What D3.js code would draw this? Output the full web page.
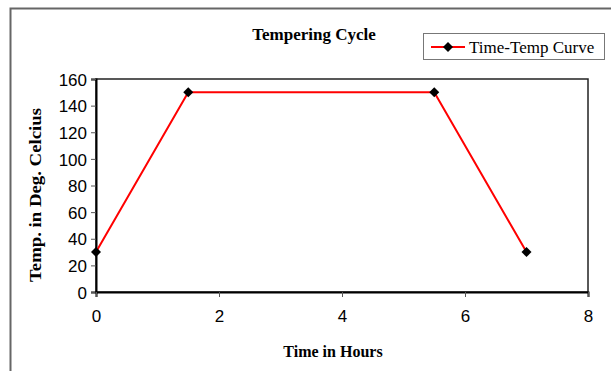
<!DOCTYPE html>
<html>
<head>
<meta charset="utf-8">
<script src="https://cdn.jsdelivr.net/npm/d3@7"></script>
<style>
  body { margin: 0; background: #fff; }
  svg { display: block; }
</style>
</head>
<body>
<div id="chart"></div>
<script>
// chart data
const hours = [0, 1.5, 5.5, 7];
const temps = [30, 150, 150, 30];
const xTicks = [0, 2, 4, 6, 8];
const yTicks = [0, 20, 40, 60, 80, 100, 120, 140, 160];

const width = 611;
const height = 371;
const margin = { top: 79, right: 23, bottom: 79, left: 96 };

const svg = d3.select("#chart")
  .append("svg")
  .attr("width", width)
  .attr("height", height);

// outer frame
svg.append("rect")
  .attr("x", 10.5)
  .attr("y", 8.5)
  .attr("width", 700)
  .attr("height", 500)
  .attr("fill", "none")
  .attr("stroke", "#666")
  .attr("stroke-width", 2);

const x = d3.scaleLinear()
  .domain([0, 8])
  .range([margin.left, width - margin.right]);

const y = d3.scaleLinear()
  .domain([0, 160])
  .range([height - margin.bottom, margin.top]);

// plot area border
svg.append("rect")
  .attr("x", x(0))
  .attr("y", y(160))
  .attr("width", x(8) - x(0))
  .attr("height", y(0) - y(160))
  .attr("fill", "none")
  .attr("stroke", "#222")
  .attr("stroke-width", 1.5);

const yAxis = svg.append("g")
  .attr("transform", `translate(${x(0)},0)`)
  .call(d3.axisLeft(y).tickValues(yTicks).tickSize(5).tickPadding(4));

const xAxis = svg.append("g")
  .attr("transform", `translate(0,${y(0)})`)
  .call(d3.axisBottom(x).tickValues(xTicks).tickSize(5).tickPadding(13));

[xAxis, yAxis].forEach(g => {
  g.select(".domain").attr("stroke", "#000").attr("stroke-width", 2);
  g.selectAll(".tick line").attr("stroke", "#555");
  g.selectAll("text")
    .attr("font-family", "Liberation Sans, Arial, sans-serif")
    .attr("font-size", 17)
    .attr("fill", "#000");
});
yAxis.selectAll("text").attr("dy", "0.36em");

// series line
const line = d3.line()
  .x((d, i) => x(hours[i]))
  .y(d => y(d));

svg.append("path")
  .datum(temps)
  .attr("fill", "none")
  .attr("stroke", "#ff0000")
  .attr("stroke-width", 2)
  .attr("d", line);

// square turned 45 degrees, like Excel's diamond marker
const diamond = d3.symbol().type(d3.symbolSquare).size(50);

svg.selectAll(".pt")
  .data(temps)
  .enter()
  .append("path")
  .attr("class", "pt")
  .attr("transform", (d, i) => `translate(${x(hours[i])},${y(d)}) rotate(45)`)
  .attr("d", diamond)
  .attr("fill", "#000");

// title
svg.append("text")
  .attr("x", 314)
  .attr("y", 40)
  .attr("text-anchor", "middle")
  .attr("font-family", "Liberation Serif, Times New Roman, serif")
  .attr("font-weight", "bold")
  .attr("font-size", 17)
  .text("Tempering Cycle");

// axis titles
svg.append("text")
  .attr("x", 333)
  .attr("y", 357)
  .attr("text-anchor", "middle")
  .attr("font-family", "Liberation Serif, Times New Roman, serif")
  .attr("font-weight", "bold")
  .attr("font-size", 16)
  .text("Time in Hours");

svg.append("text")
  .attr("transform", "translate(41,195) rotate(-90)")
  .attr("text-anchor", "middle")
  .attr("font-family", "Liberation Serif, Times New Roman, serif")
  .attr("font-weight", "bold")
  .attr("font-size", 17)
  .attr("textLength", 174)
  .attr("lengthAdjust", "spacingAndGlyphs")
  .text("Temp. in Deg. Celcius");

// legend
const legend = svg.append("g");
legend.append("rect")
  .attr("x", 423.5)
  .attr("y", 33.5)
  .attr("width", 181)
  .attr("height", 26)
  .attr("fill", "#fff")
  .attr("stroke", "#777");
legend.append("line")
  .attr("x1", 431).attr("x2", 465)
  .attr("y1", 47).attr("y2", 47)
  .attr("stroke", "#ff0000")
  .attr("stroke-width", 2);
legend.append("path")
  .attr("transform", "translate(448,47) rotate(45)")
  .attr("d", diamond)
  .attr("fill", "#000");
legend.append("text")
  .attr("x", 469)
  .attr("y", 53)
  .attr("font-family", "Liberation Serif, Times New Roman, serif")
  .attr("font-size", 17)
  .text("Time-Temp Curve");
</script>
</body>
</html>
